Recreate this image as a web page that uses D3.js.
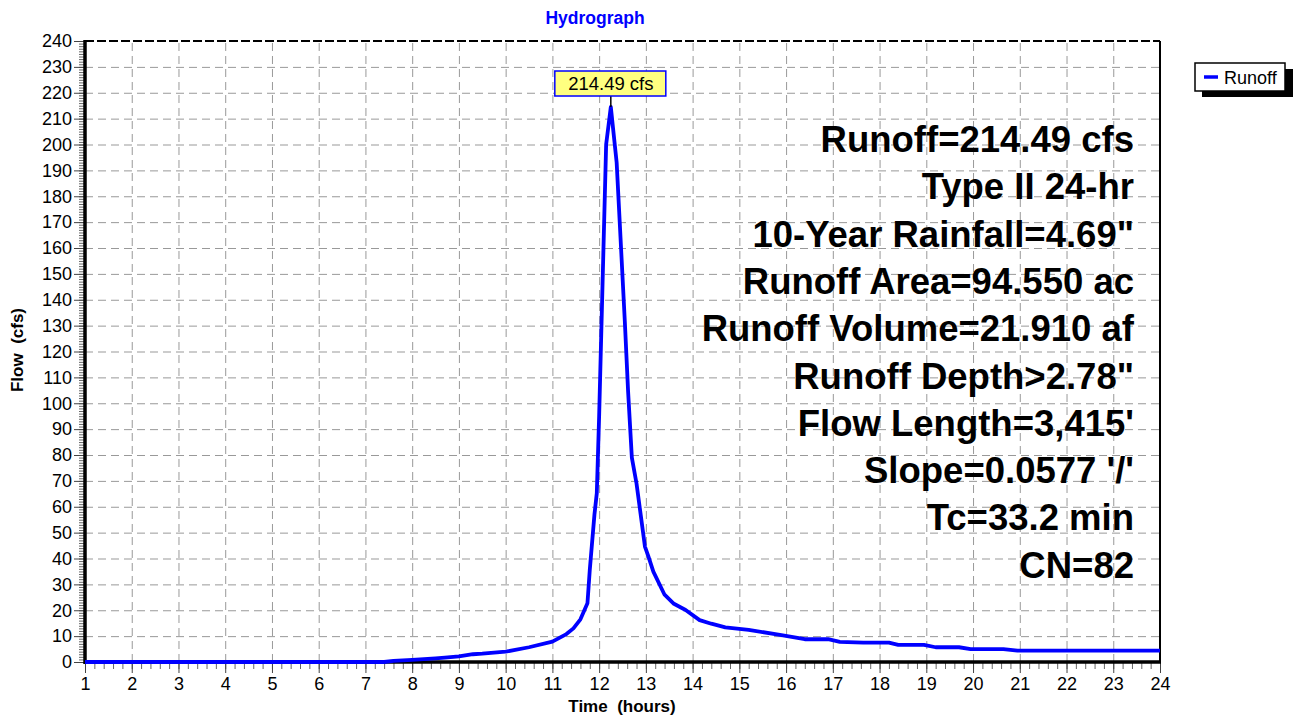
<!DOCTYPE html>
<html>
<head>
<meta charset="utf-8">
<script src="https://cdn.jsdelivr.net/npm/d3@7"></script>
<style>
  body { margin: 0; background: #fff; }
  svg { font-family: "Liberation Sans", Arial, sans-serif; }
</style>
</head>
<body>
<svg width="1294" height="717"></svg>
<script>
// hydrograph readings (hours, cfs)
const hours = [1, 7.4, 7.6, 8.0, 8.5, 8.7, 9.0, 9.3, 9.5, 10.0, 10.5, 11.0, 11.3, 11.45, 11.6, 11.75,
  11.8, 11.9, 11.95, 12.0, 12.15, 12.25, 12.375, 12.55, 12.62, 12.7, 12.8, 12.98, 13.05, 13.16,
  13.4, 13.6, 13.85, 14.15, 14.4, 14.7, 15.2, 15.9, 16.4, 16.9, 17.15, 17.65, 18.2, 18.4, 18.95,
  19.2, 19.7, 19.95, 20.65, 20.95, 24];
const flows = [0, 0, 0.4, 0.8, 1.4, 1.7, 2.2, 3.0, 3.2, 4.0, 5.7, 7.9, 10.8, 13.0, 16.5, 22.7,
  35.6, 57, 65.2, 95, 200, 214.49, 193, 131.5, 104.5, 79, 69, 44.6, 41, 34.9,
  26, 22.5, 20.1, 16.2, 14.8, 13.4, 12.4, 10.4, 8.8, 8.8, 7.8, 7.5, 7.5, 6.6, 6.6,
  5.7, 5.7, 5.0, 5.0, 4.4, 4.4];
const xTicks = d3.range(1, 25);
const yTicks = d3.range(0, 241, 10);
const peakLabel = "214.49 cfs";
const notes = ["Runoff=214.49 cfs", "Type II 24-hr", "10-Year Rainfall=4.69\"", "Runoff Area=94.550 ac",
  "Runoff Volume=21.910 af", "Runoff Depth>2.78\"", "Flow Length=3,415'", "Slope=0.0577 '/'",
  "Tc=33.2 min", "CN=82"];

const svg = d3.select("svg");
const plotL = 85, plotR = 1160, plotT = 41, plotB = 662;
const x = d3.scaleLinear().domain([1, 24]).range([plotL, plotR]);
const y = d3.scaleLinear().domain([0, 240]).range([plotB, plotT]);
const data = hours.map((h, i) => ({ h, v: flows[i] }));

// grid
svg.append("g")
  .attr("transform", `translate(0,${plotB})`)
  .call(d3.axisBottom(x).tickValues(xTicks.slice(1)).tickSize(-(plotB - plotT)).tickFormat(""))
  .call(g => g.select(".domain").remove())
  .selectAll("line").attr("stroke", "#999").attr("stroke-dasharray", "8,5");
svg.append("g")
  .attr("transform", `translate(${plotL},0)`)
  .call(d3.axisLeft(y).tickValues(yTicks.slice(1, -1)).tickSize(-(plotR - plotL)).tickFormat(""))
  .call(g => g.select(".domain").remove())
  .selectAll("line").attr("stroke", "#999").attr("stroke-dasharray", "8,5");

// frame
svg.append("line").attr("x1", plotL).attr("x2", plotR).attr("y1", plotT).attr("y2", plotT)
  .attr("stroke", "#000").attr("stroke-width", 2).attr("stroke-dasharray", "9,3");
svg.append("line").attr("x1", plotR).attr("x2", plotR).attr("y1", plotT).attr("y2", plotB)
  .attr("stroke", "#000").attr("stroke-width", 2);

// minor ticks
svg.append("g")
  .attr("transform", `translate(${plotL},0)`)
  .call(d3.axisLeft(y).tickValues(d3.range(0, 241, 1)).tickSize(6).tickFormat(""))
  .call(g => g.select(".domain").remove())
  .selectAll("line").attr("stroke", "#666");
svg.append("g")
  .attr("transform", `translate(0,${plotB})`)
  .call(d3.axisBottom(x).tickValues(d3.range(1, 24.01, 0.2)).tickSize(7).tickFormat(""))
  .call(g => g.select(".domain").remove())
  .selectAll("line").attr("stroke", "#666");

// major ticks + labels
svg.append("g")
  .attr("transform", `translate(${plotL},0)`)
  .call(d3.axisLeft(y).tickValues(yTicks).tickSize(11).tickPadding(2))
  .call(g => g.select(".domain").remove())
  .call(g => g.selectAll("line").attr("stroke", "#444"))
  .call(g => g.selectAll("text").attr("font-size", 18).attr("fill", "#000"))
  .attr("font-family", null);
svg.append("g")
  .attr("transform", `translate(0,${plotB})`)
  .call(d3.axisBottom(x).tickValues(xTicks).tickSize(11).tickPadding(4))
  .call(g => g.select(".domain").remove())
  .call(g => g.selectAll("line").attr("stroke", "#444"))
  .call(g => g.selectAll("text").attr("font-size", 18).attr("fill", "#000"))
  .attr("font-family", null);

// thick axis lines
svg.append("line").attr("x1", plotL).attr("x2", plotL).attr("y1", plotT - 1).attr("y2", plotB + 2)
  .attr("stroke", "#000").attr("stroke-width", 3.5);
svg.append("line").attr("x1", plotL).attr("x2", plotR + 1).attr("y1", plotB).attr("y2", plotB)
  .attr("stroke", "#000").attr("stroke-width", 3.5);

// notes
svg.append("g").selectAll("text")
  .data(notes).join("text")
  .attr("x", 1134).attr("y", (d, i) => 152 + i * 47.3)
  .attr("text-anchor", "end")
  .attr("font-size", 36.5).attr("font-weight", "bold")
  .text(d => d);

// hydrograph line
svg.append("path")
  .datum(data)
  .attr("fill", "none")
  .attr("stroke", "#0000ff")
  .attr("stroke-width", 3.8)
  .attr("stroke-linejoin", "round")
  .attr("d", d3.line().x(d => x(d.h)).y(d => y(d.v)));

// peak label
const peak = data.reduce((a, b) => (b.v > a.v ? b : a));
const px = x(peak.h), py = y(peak.v);
svg.append("line").attr("x1", px).attr("x2", px).attr("y1", py - 12).attr("y2", py)
  .attr("stroke", "#000").attr("stroke-width", 1.5);
svg.append("rect").attr("x", px - 56).attr("y", py - 36).attr("width", 111).attr("height", 25)
  .attr("fill", "#ffff80").attr("stroke", "#0000ff").attr("stroke-width", 1.5);
svg.append("text").attr("x", px).attr("y", py - 17).attr("text-anchor", "middle")
  .attr("font-size", 18.5).text(peakLabel);

// titles
svg.append("text").attr("x", 595).attr("y", 24).attr("text-anchor", "middle")
  .attr("font-size", 17.5).attr("font-weight", "bold").attr("fill", "#0000ff").text("Hydrograph");
svg.append("text").attr("x", 622).attr("y", 712).attr("text-anchor", "middle")
  .attr("font-size", 17).attr("font-weight", "bold").attr("xml:space", "preserve").text("Time  (hours)");
svg.append("text").attr("transform", "translate(23,350) rotate(-90)").attr("text-anchor", "middle")
  .attr("font-size", 17).attr("font-weight", "bold").attr("xml:space", "preserve").text("Flow  (cfs)");

// legend
const lg = svg.append("g").attr("transform", "translate(1195,63)");
lg.append("rect").attr("x", 7).attr("y", 6).attr("width", 91).attr("height", 28).attr("fill", "#000");
lg.append("rect").attr("x", 0).attr("y", 0).attr("width", 90).attr("height", 28)
  .attr("fill", "#fff").attr("stroke", "#000").attr("stroke-width", 1.5);
lg.append("line").attr("x1", 9).attr("x2", 23).attr("y1", 14).attr("y2", 14)
  .attr("stroke", "#0000ff").attr("stroke-width", 3.5);
lg.append("text").attr("x", 29).attr("y", 21).attr("font-size", 18).text("Runoff");
</script>
</body>
</html>
